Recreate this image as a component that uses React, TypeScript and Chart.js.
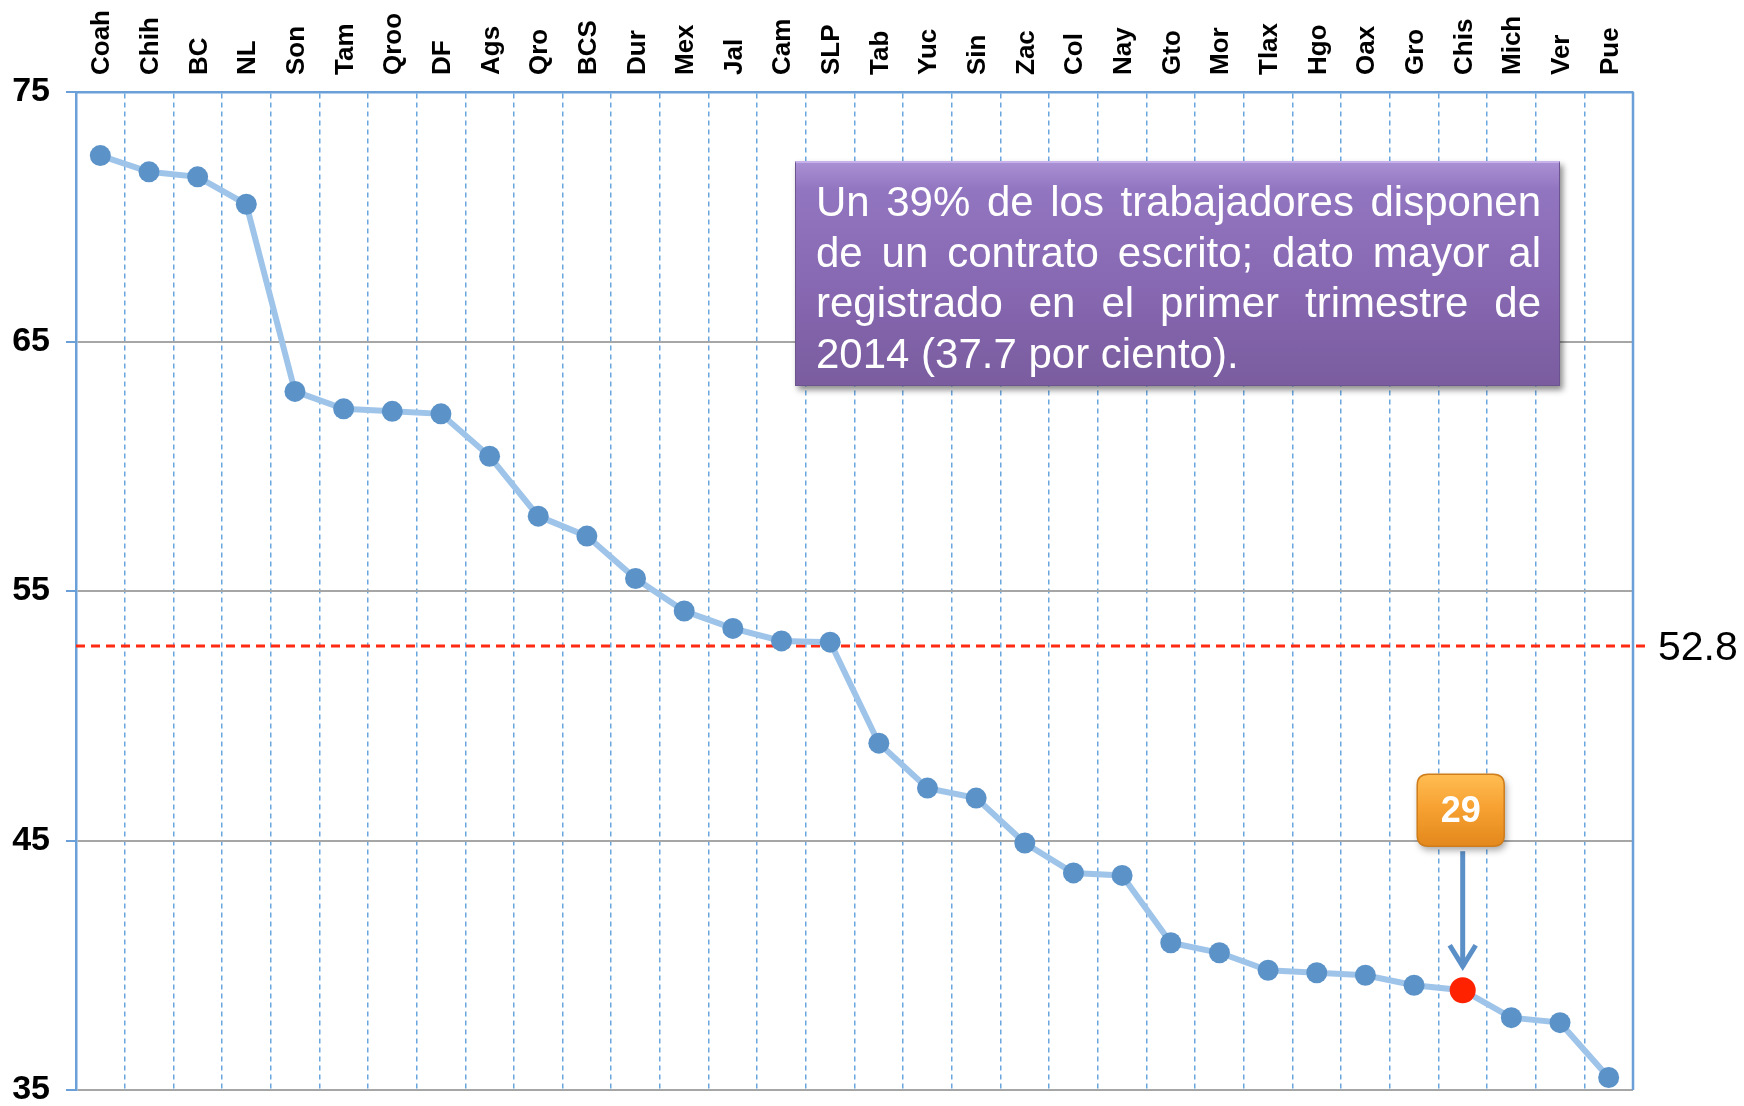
import React, { useEffect, useRef } from "react";
import { Chart, registerables } from "chart.js";

Chart.register(...registerables);

// ---- data ----
const states = [
  "Coah", "Chih", "BC", "NL", "Son", "Tam", "Qroo", "DF", "Ags", "Qro", "BCS",
  "Dur", "Mex", "Jal", "Cam", "SLP", "Tab", "Yuc", "Sin", "Zac", "Col", "Nay",
  "Gto", "Mor", "Tlax", "Hgo", "Oax", "Gro", "Chis", "Mich", "Ver", "Pue",
];
const values = [
  72.45, 71.8, 71.6, 70.5, 63.0, 62.3, 62.2, 62.1, 60.4, 58.0, 57.2,
  55.5, 54.2, 53.5, 53.0, 52.95, 48.9, 47.1, 46.7, 44.9, 43.7, 43.6,
  40.9, 40.5, 39.8, 39.7, 39.6, 39.2, 39.0, 37.9, 37.7, 35.5,
];
const yTicks = [35, 45, 55, 65, 75];
const nationalAverage = 52.8;
const nationalAverageLabel = "52.8";
const highlightState = "Chis";
const highlightRankLabel = "29";
const noteLines = [
  "Un 39% de los trabajadores disponen",
  "de un contrato escrito; dato mayor al",
  "registrado en el primer trimestre de",
  "2014 (37.7 por ciento).",
];

const FONT = '"Liberation Sans", Arial, Helvetica, sans-serif';
const AXIS_BLUE = "#6a9fd8";

function roundRectPath(ctx: CanvasRenderingContext2D, x: number, y: number, w: number, h: number, r: number) {
  ctx.beginPath();
  ctx.moveTo(x + r, y);
  ctx.lineTo(x + w - r, y);
  ctx.quadraticCurveTo(x + w, y, x + w, y + r);
  ctx.lineTo(x + w, y + h - r);
  ctx.quadraticCurveTo(x + w, y + h, x + w - r, y + h);
  ctx.lineTo(x + r, y + h);
  ctx.quadraticCurveTo(x, y + h, x, y + h - r);
  ctx.lineTo(x, y + r);
  ctx.quadraticCurveTo(x, y, x + r, y);
  ctx.closePath();
}

const overlayPlugin = {
  id: "overlay",
  beforeDatasetsDraw(chart: any) {
    const { ctx, chartArea, scales } = chart;
    // right border
    ctx.save();
    ctx.strokeStyle = AXIS_BLUE;
    ctx.lineWidth = 2.5;
    ctx.beginPath();
    ctx.moveTo(chartArea.right, chartArea.top);
    ctx.lineTo(chartArea.right, chartArea.bottom);
    ctx.stroke();
    ctx.restore();

    // national average dashed line
    const y = scales.y.getPixelForValue(nationalAverage);
    ctx.save();
    ctx.strokeStyle = "#ff2a12";
    ctx.lineWidth = 3;
    ctx.setLineDash([9, 6]);
    ctx.beginPath();
    ctx.moveTo(chartArea.left, y);
    ctx.lineTo(chartArea.right + 14, y);
    ctx.stroke();
    ctx.restore();

    ctx.save();
    ctx.fillStyle = "#000";
    ctx.font = `41px ${FONT}`;
    ctx.textAlign = "left";
    ctx.textBaseline = "middle";
    ctx.fillText(nationalAverageLabel, chartArea.right + 25, y + 3);
    ctx.restore();
  },
  afterDatasetsDraw(chart: any) {
    const { ctx } = chart;
    const idx = states.indexOf(highlightState);
    const pt = chart.getDatasetMeta(0).data[idx];
    if (!pt) return;
    const px = pt.x;
    const py = pt.y;

    // arrow
    const tip = py - 21;
    const start = py - 139;
    ctx.save();
    ctx.strokeStyle = "#5b8fc7";
    ctx.lineWidth = 5;
    ctx.lineCap = "butt";
    ctx.lineJoin = "miter";
    ctx.beginPath();
    ctx.moveTo(px, start);
    ctx.lineTo(px, tip - 2);
    ctx.stroke();
    ctx.beginPath();
    ctx.moveTo(px - 13, tip - 24);
    ctx.lineTo(px, tip - 3);
    ctx.lineTo(px + 13, tip - 24);
    ctx.stroke();
    ctx.restore();

    // orange callout box
    const bw = 87;
    const bh = 72;
    const bx = px - bw / 2 - 2;
    const by = py - 216;
    ctx.save();
    ctx.shadowColor = "rgba(0,0,0,0.35)";
    ctx.shadowBlur = 7;
    ctx.shadowOffsetX = 2;
    ctx.shadowOffsetY = 4;
    const g = ctx.createLinearGradient(0, by, 0, by + bh);
    g.addColorStop(0, "#ffbd52");
    g.addColorStop(0.45, "#f7a233");
    g.addColorStop(1, "#e4881c");
    roundRectPath(ctx, bx, by, bw, bh, 11);
    ctx.fillStyle = g;
    ctx.fill();
    ctx.restore();
    ctx.save();
    roundRectPath(ctx, bx, by, bw, bh, 11);
    ctx.strokeStyle = "#cf7d1a";
    ctx.lineWidth = 1.5;
    ctx.stroke();
    ctx.fillStyle = "#ffffff";
    ctx.font = `bold 36px ${FONT}`;
    ctx.textAlign = "center";
    ctx.textBaseline = "middle";
    ctx.fillText(highlightRankLabel, bx + bw / 2, by + bh / 2 + 2);
    ctx.restore();
  },
};

export default function App() {
  const ref = useRef<HTMLCanvasElement>(null);

  useEffect(() => {
    const canvas = ref.current;
    if (!canvas) return;
    const hi = states.indexOf(highlightState);
    const chart = new Chart(canvas, {
      type: "line",
      data: {
        labels: states,
        datasets: [
          {
            data: values,
            borderColor: "#9fc4e9",
            borderWidth: 6,
            tension: 0,
            pointRadius: states.map((_, i) => (i === hi ? 13 : 10.5)),
            pointHoverRadius: states.map((_, i) => (i === hi ? 13 : 10.5)),
            pointBackgroundColor: states.map((_, i) => (i === hi ? "#ff2200" : "#5b93c9")),
            pointBorderColor: states.map((_, i) => (i === hi ? "#ff2200" : "#5b93c9")),
            pointBorderWidth: 0,
          },
        ],
      },
      options: {
        responsive: false,
        animation: false,
        devicePixelRatio: 1,
        layout: { padding: { left: 0, right: 111, top: 0, bottom: 16 } },
        plugins: { legend: { display: false }, tooltip: { enabled: false } },
        scales: {
          x: {
            position: "top",
            offset: true,
            grid: {
              offset: true,
              color: "#6aa6de",
              lineWidth: 1.5,
              drawTicks: false,
            },
            border: { display: true, color: AXIS_BLUE, width: 2.5, dash: [5, 4] },
            ticks: {
              autoSkip: false,
              minRotation: 90,
              maxRotation: 90,
              padding: 17,
              labelOffset: 33,
              color: "#000",
              font: { family: FONT, size: 26, weight: "bold" },
            },
            afterFit: (s: any) => {
              s.height = 92;
              s.paddingLeft = 0;
              s.paddingRight = 0;
            },
          },
          y: {
            min: 35,
            max: 75,
            afterBuildTicks: (s: any) => {
              s.ticks = yTicks.map((v) => ({ value: v }));
            },
            grid: {
              color: (c: any) => (c.tick && c.tick.value === 75 ? AXIS_BLUE : "#a6a6a6"),
              lineWidth: 2,
              drawTicks: true,
              tickLength: 10,
              tickColor: AXIS_BLUE,
            },
            border: { display: true, color: AXIS_BLUE, width: 2.5 },
            ticks: {
              padding: 16,
              color: "#000",
              font: { family: FONT, size: 34, weight: "bold" },
            },
            afterFit: (s: any) => {
              s.width = 76;
              s.paddingTop = 0;
              s.paddingBottom = 0;
            },
          },
        },
      },
      plugins: [overlayPlugin],
    } as any);
    return () => chart.destroy();
  }, []);

  return (
    <div style={{ position: "absolute", left: 0, top: 0, width: 1744, height: 1106, background: "#fff", overflow: "hidden" }}>
      <canvas ref={ref} width={1744} height={1106} style={{ position: "absolute", left: 0, top: 0, width: 1744, height: 1106 }} />
      <div
        style={{
          position: "absolute",
          left: 795,
          top: 161,
          width: 765,
          height: 225,
          boxSizing: "border-box",
          padding: "14px 18px 0 20px",
          background: "linear-gradient(180deg, #a98fd3 0%, #9275c0 12%, #8768b2 55%, #7a5c9f 100%)",
          border: "1px solid #6b5490",
          borderTop: "2px solid #c6b1ea",
          boxShadow: "3px 4px 6px rgba(0,0,0,0.45)",
          color: "#ffffff",
          fontFamily: FONT,
          fontSize: 42,
          lineHeight: "50.5px",
        }}
      >
        {noteLines.map((line, i) => {
          const last = i === noteLines.length - 1;
          return (
            <div
              key={i}
              style={{
                textAlign: last ? "left" : "justify",
                textAlignLast: last ? "left" : "justify",
              } as any}
            >
              {line}
            </div>
          );
        })}
      </div>
    </div>
  );
}
